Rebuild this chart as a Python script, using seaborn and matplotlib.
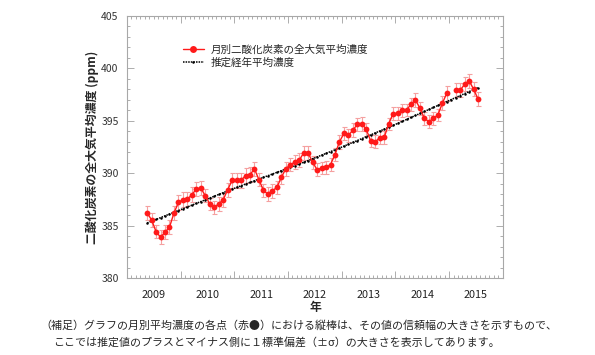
import numpy as np
import pandas as pd
import matplotlib
matplotlib.use("Agg")
import matplotlib.pyplot as plt
import matplotlib.transforms as mtransforms
from matplotlib.lines import Line2D
from matplotlib.ticker import MultipleLocator
import seaborn as sns

# 月別データ (2009年5月 ～ 2015年7月, 2015年1月は欠測)
months = pd.period_range('2009-05', '2015-07', freq='M')

co2_monthly = [
    386.19, 385.55, 384.42, 383.89, 384.37, 384.85, 386.20, 387.21,
    387.46, 387.53, 387.94, 388.49, 388.59, 387.85, 387.08, 386.73, 387.08, 387.46, 388.42, 389.31,
    389.31, 389.31, 389.77, 389.86, 390.41, 389.38, 388.36, 388.01, 388.33, 388.64, 389.60, 390.41,
    390.82, 391.04, 391.23, 391.94, 391.94, 391.04, 390.34, 390.50, 390.56, 390.82, 391.78, 393.00,
    393.79, 393.60, 394.11, 394.66, 394.72, 394.18, 393.06, 393.00, 393.38, 393.41, 394.71, 395.68,
    395.71, 396.00, 396.03, 396.58, 396.99, 396.19, 395.23, 394.92, 395.23, 395.55, 396.67, 397.63,
    np.nan, 397.95, 397.92, 398.49, 398.81, 398.01, 397.06,
]

co2_sigma = [
    0.65, 0.65, 0.65, 0.65, 0.65, 0.65, 0.65, 0.70,
    0.70, 0.70, 0.70, 0.70, 0.70, 0.60, 0.60, 0.65, 0.65, 0.65, 0.65, 0.70,
    0.70, 0.70, 0.70, 0.70, 0.70, 0.60, 0.65, 0.65, 0.65, 0.65, 0.65, 0.65,
    0.65, 0.65, 0.65, 0.65, 0.65, 0.60, 0.60, 0.60, 0.60, 0.60, 0.65, 0.65,
    0.65, 0.65, 0.65, 0.65, 0.65, 0.65, 0.60, 0.60, 0.60, 0.60, 0.60, 0.65,
    0.60, 0.60, 0.60, 0.60, 0.65, 0.60, 0.60, 0.60, 0.60, 0.60, 0.65, 0.70,
    np.nan, 0.65, 0.65, 0.65, 0.70, 0.65, 0.65,
]

co2_trend = [
    385.25, 385.42, 385.59, 385.76, 385.93, 386.10, 386.27, 386.44,
    386.61, 386.78, 386.95, 387.12, 387.29, 387.46, 387.63, 387.80, 387.97, 388.14, 388.31, 388.48,
    388.64, 388.80, 388.96, 389.12, 389.28, 389.44, 389.60, 389.76, 389.92, 390.08, 390.24, 390.40,
    390.56, 390.72, 390.88, 391.04, 391.21, 391.38, 391.55, 391.72, 391.89, 392.06, 392.23, 392.40,
    392.58, 392.76, 392.94, 393.12, 393.30, 393.48, 393.66, 393.84, 394.02, 394.20, 394.38, 394.56,
    394.75, 394.94, 395.13, 395.32, 395.51, 395.70, 395.89, 396.08, 396.27, 396.46, 396.65, 396.84,
    397.03, 397.22, 397.41, 397.60, 397.79, 397.98, 398.17,
]

year_labels = ['2009', '2010', '2011', '2012', '2013', '2014', '2015']

label_monthly = '月別二酸化炭素の全大気平均濃度'
label_trend = '推定経年平均濃度'
ylabel = '二酸化炭素の全大気平均濃度 (ppm)'
xlabel = '年'
note = ['（補足）グラフの月別平均濃度の各点（赤●）における縦棒は、その値の信頼幅の大きさを示すもので、',
        'ここでは推定値のプラスとマイナス側に１標準偏差（±σ）の大きさを表示してあります。']

# データフレーム
df = pd.DataFrame({
    'x': months.year + (months.month - 0.5) / 12,
    'co2': co2_monthly,
    'sigma': co2_sigma,
    'trend': co2_trend,
})
df['seg'] = df['co2'].isna().cumsum()
obs = df.dropna(subset=['co2'])

sns.set_style('ticks')
plt.rcParams['font.family'] = ['Noto Sans CJK JP', 'DejaVu Sans']

fig = plt.figure(figsize=(5.95, 3.55), dpi=100)
ax = fig.add_axes([127 / 595, 1 - 278 / 355, (502.7 - 127) / 595, (278 - 16) / 355])

# 誤差棒
ax.errorbar(obs['x'], obs['co2'], yerr=obs['sigma'], fmt='none',
            ecolor='#f5a0a0', elinewidth=0.8, capsize=1.8, capthick=0.8, zorder=1)

# 経年平均
trend_style = dict(color='black', linewidth=1.1, linestyle=(0, (1.0, 0.7)),
                   marker='o', markersize=1.8, markeredgewidth=0)
sns.lineplot(data=df, x='x', y='trend', ax=ax, zorder=2, **trend_style)

# 月別平均
sns.lineplot(data=obs, x='x', y='co2', units='seg', estimator=None, color='#ff1a1a',
             linewidth=1.0, marker='o', markersize=4.2, markeredgewidth=0, ax=ax, zorder=3)

ax.set_xlim(2009, 2016)
ax.set_ylim(380, 405)
ax.set_xticks(range(2009, 2017))
ax.set_xticklabels([])
ax.xaxis.set_minor_locator(MultipleLocator(1 / 12))
ax.set_yticks(range(380, 406, 5))
ax.yaxis.set_minor_locator(MultipleLocator(1))
ax.tick_params(which='both', direction='in', top=True, right=True, color='#a0a0a0', width=0.6)
ax.tick_params(which='major', length=5)
ax.tick_params(which='minor', length=2.5)
ax.tick_params(axis='y', labelsize=7.5, labelcolor='#333333', pad=6)
for s in ax.spines.values():
    s.set_color('#a8a8a8')
    s.set_linewidth(0.8)

trans = mtransforms.blended_transform_factory(ax.transData, ax.transAxes)
for i, yl in enumerate(year_labels):
    ax.text(2009.5 + i, -0.045, yl, transform=trans, ha='center', va='top',
            fontsize=7.8, color='#222222')

ax.set_xlabel('')
ax.set_ylabel(ylabel, fontsize=8.6, fontweight='bold', labelpad=2)
fig.text(315 / 595, 1 - 308 / 355, xlabel, ha='center', va='center', fontsize=8.5, fontweight='bold')

handles = [
    Line2D([], [], color='#ff1a1a', linewidth=1.0, marker='o', markersize=5, markeredgewidth=0),
    Line2D([], [], **trend_style),
]
ax.legend(handles, [label_monthly, label_trend], loc='upper left', bbox_to_anchor=(0.148, 0.89),
          frameon=False, fontsize=7.6, handlelength=2.0, handletextpad=0.7, labelspacing=0.25,
          borderpad=0, borderaxespad=0)

fig.text(40 / 595, 1 - 326 / 355, note[0], ha='left', va='center', fontsize=7.9)
fig.text(53 / 595, 1 - 342 / 355, note[1], ha='left', va='center', fontsize=7.9)

fig.savefig('out.png', dpi=100)
